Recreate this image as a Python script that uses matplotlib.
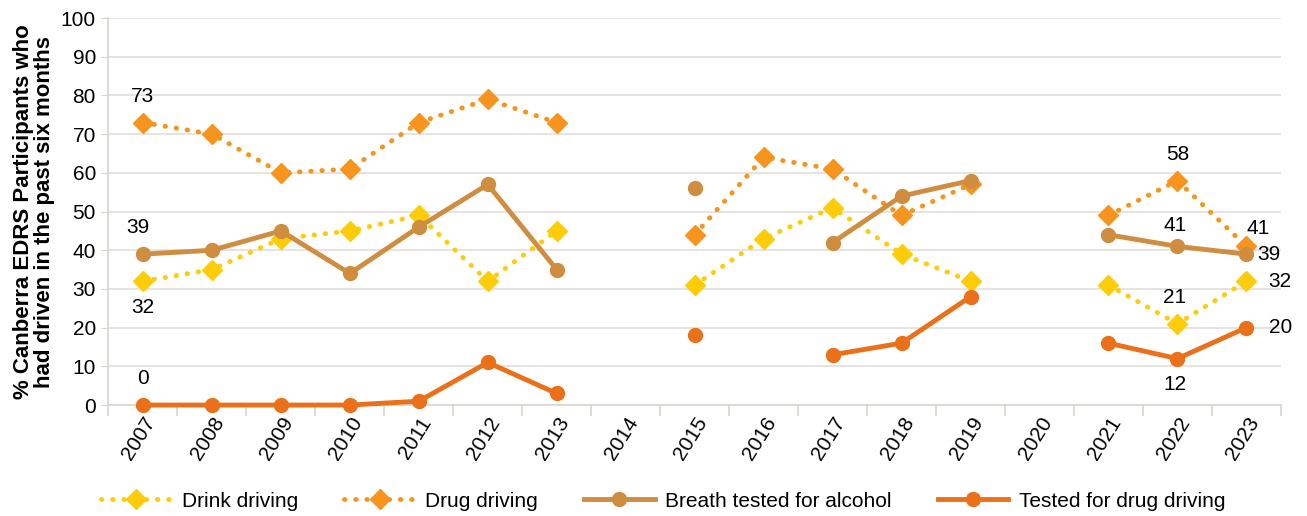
import numpy as np
import matplotlib.pyplot as plt

plt.rcParams['font.family'] = ['Liberation Sans', 'DejaVu Sans']

years = ['2007', '2008', '2009', '2010', '2011', '2012', '2013', '2014', '2015',
         '2016', '2017', '2018', '2019', '2020', '2021', '2022', '2023']
nan = np.nan
drink = [32, 35, 43, 45, 49, 32, 45, nan, 31, 43, 51, 39, 32, nan, 31, 21, 32]
drug = [73, 70, 60, 61, 73, 79, 73, nan, 44, 64, 61, 49, 57, nan, 49, 58, 41]
breath = [39, 40, 45, 34, 46, 57, 35, nan, 56, nan, 42, 54, 58, nan, 44, 41, 39]
tested = [0, 0, 0, 0, 1, 11, 3, nan, 18, nan, 13, 16, 28, nan, 16, 12, 20]

c_drink = '#FFCC0A'
c_drug = '#F7941E'
c_breath = '#CF8D40'
c_test = '#EA7119'

x = np.arange(len(years))
dots = (0, (0.1, 2.2))

fig = plt.figure(figsize=(13.07, 5.16), dpi=100)
ax = fig.add_axes([0.083, 0.215, 0.897, 0.75])

ax.plot(x, drink, color=c_drink, ls=dots, lw=3.5, dash_capstyle='round', marker='D', ms=10,
        clip_on=False, zorder=3, label='Drink driving')
ax.plot(x, drug, color=c_drug, ls=dots, lw=3.5, dash_capstyle='round', marker='D', ms=10,
        clip_on=False, zorder=3, label='Drug driving')
ax.plot(x, breath, color=c_breath, ls='-', lw=3.5, marker='o', ms=10, clip_on=False,
        zorder=3, label='Breath tested for alcohol')
ax.plot(x, tested, color=c_test, ls='-', lw=3.5, marker='o', ms=10, clip_on=False,
        zorder=3, label='Tested for drug driving')

fs = 15
# data labels
ax.annotate('73', (0, drug[0]), xytext=(0, 12), textcoords='offset points', ha='center', va='bottom', fontsize=fs)
ax.annotate('39', (0, breath[0]), xytext=(-4, 12), textcoords='offset points', ha='center', va='bottom', fontsize=fs)
ax.annotate('32', (0, drink[0]), xytext=(0, -12), textcoords='offset points', ha='center', va='top', fontsize=fs)
ax.annotate('0', (0, tested[0]), xytext=(0, 12), textcoords='offset points', ha='center', va='bottom', fontsize=fs)
ax.annotate('58', (15, drug[15]), xytext=(0, 12), textcoords='offset points', ha='center', va='bottom', fontsize=fs)
ax.annotate('41', (15, breath[15]), xytext=(-2, 8), textcoords='offset points', ha='center', va='bottom', fontsize=fs)
ax.annotate('21', (15, drink[15]), xytext=(-2, 12), textcoords='offset points', ha='center', va='bottom', fontsize=fs)
ax.annotate('12', (15, tested[15]), xytext=(-2, -12), textcoords='offset points', ha='center', va='top', fontsize=fs)
ax.annotate('41', (16, drug[16]), xytext=(0, 6), textcoords='offset points', ha='left', va='bottom', fontsize=fs)
ax.annotate('39', (16, breath[16]), xytext=(8, 0), textcoords='offset points', ha='left', va='center', fontsize=fs)
ax.annotate('32', (16, drink[16]), xytext=(16, 0), textcoords='offset points', ha='left', va='center', fontsize=fs)
ax.annotate('20', (16, tested[16]), xytext=(16, 0), textcoords='offset points', ha='left', va='center', fontsize=fs)

ax.set_ylim(0, 100)
ax.set_yticks(np.arange(0, 101, 10))
ax.set_xlim(-0.5, len(years) - 0.5)
ax.set_xticks(x)
ax.set_xticklabels(years, rotation=58, ha='right', rotation_mode='anchor', fontsize=fs)
ax.set_xticks(np.arange(-0.5, len(years), 1), minor=True)
ax.tick_params(axis='x', which='major', length=0, pad=6)
ax.tick_params(axis='x', which='minor', length=8, color='#D9D4D0', width=1.2)
ax.tick_params(axis='y', length=5, color='#D9D4D0', labelsize=fs, pad=4)
ax.yaxis.grid(True, color='#E3DEDA', lw=1.2)
ax.set_axisbelow(True)
for s in ['top', 'right']:
    ax.spines[s].set_visible(False)
ax.spines['left'].set_color('#D9D4D0')
ax.spines['bottom'].set_color('#D9D4D0')
ax.spines['left'].set_linewidth(1.2)
ax.spines['bottom'].set_linewidth(1.2)
ax.spines['left'].set_zorder(1)
ax.spines['bottom'].set_zorder(1)

ax.set_ylabel('% Canberra EDRS Participants who\nhad driven in the past six months',
              fontsize=16, fontweight='bold', labelpad=4, linespacing=1.05)

leg = ax.legend(loc='upper center', bbox_to_anchor=(0.473, -0.175), ncol=4, frameon=False,
                fontsize=fs, handlelength=3.4, columnspacing=2.2, handletextpad=0.5)

fig.savefig('out.png', dpi=100)
